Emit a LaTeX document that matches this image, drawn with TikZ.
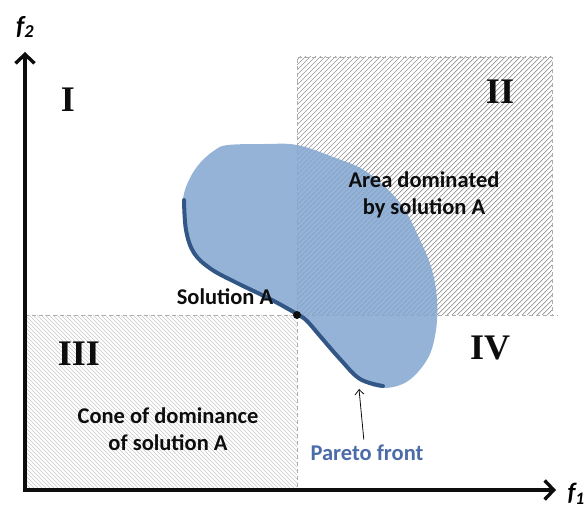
\documentclass[tikz,border=0pt]{standalone}
\usepackage{fontspec}
\setmainfont{Carlito}
\newfontfamily\romfont{Liberation Serif}
\usetikzlibrary{arrows.meta}
\definecolor{ink}{gray}{0.05}
\definecolor{dashgray}{gray}{0.68}
\definecolor{hatchdark}{gray}{0.58}
\definecolor{hatchlight}{gray}{0.78}
\definecolor{blobbase}{RGB}{130,166,208}
\definecolor{frontline}{RGB}{50,86,134}
\definecolor{frontlabel}{RGB}{75,108,168}

\tikzset{
  axis/.style={ink, line width=3.6pt, -{Straight Barb[length=9pt,width=19pt,line width=3.4pt]}},
  bound/.style={dashgray, dashed, dash pattern=on 4pt off 3pt, line width=0.8pt},
  quad/.style={font=\romfont\bfseries\fontsize{36}{36}\selectfont, text=ink},
  note/.style={font=\bfseries\fontsize{22.5}{27}\selectfont, text=ink, align=center},
}

\begin{document}
\begin{tikzpicture}[x=1pt, y=-1pt]
  \useasboundingbox (0,0) rectangle (586,508);
  \coordinate (origin) at (25,490);
  \coordinate (ytip)   at (25,52);
  \coordinate (xtip)   at (556,490);
  \coordinate (solA)   at (297,315);
  % hatched quadrants
  \begin{scope}
    \clip (297,57) rectangle (552,315);
    \foreach \i in {-260,-255,...,260}
      \draw[hatchdark, line width=0.7pt] (297+\i,315) -- ++(260,-260);
  \end{scope}
  \begin{scope}
    \clip (25,315) rectangle (297,490);
    \foreach \i in {-180,-176,...,280}
      \draw[hatchlight, line width=0.6pt] (25+\i,315) -- ++(180,180);
  \end{scope}
  \draw[bound] (297,315) -- (297,57) -- (552,57) -- (552,315);
  \draw[bound] (25,315) -- (558,315);
  \draw[bound] (297,315) -- (297,490);
  % objective space region
  \fill[blobbase, fill opacity=0.85] plot[smooth cycle, tension=0.6] coordinates {
    (228,145) (265,144) (297,145) (333,157) (367,172) (400,203) (420,240)
    (432,270) (437,300) (436,330) (428,358) (408,381) (383,388) (360,380)
    (340,360) (320,337) (307,322) (297,315) (270,300) (237,284) (210,270)
    (193,254) (185,230) (183,200) (189,180) (200,163) (215,150)};
  % pareto front
  \draw[frontline, line width=4pt, line cap=round] plot[smooth, tension=0.6] coordinates {
    (184,200) (186,230) (194,253) (211,269) (237,283) (270,299) (297,314)
    (307,321) (320,336) (340,359) (360,379) (383,386)};
  \fill[ink] (solA) circle (4);
  % axes
  \draw[axis] (origin) -- (ytip);
  \draw[axis] ([xshift=-1.8pt]origin) -- (xtip);
  \node (f2) at (25,27) {\bfseries\itshape\fontsize{26}{26}\selectfont f\textsubscript{2}};
  \node[anchor=east, inner sep=0pt] (f1) at (585,494) {\bfseries\itshape\fontsize{25}{25}\selectfont f\textsubscript{1}};
  % labels
  \node[quad] (q1) at (68,100) {I};
  \node[quad] (q2) at (500,92) {II};
  \node[quad] (q3) at (79,354) {III};
  \node[quad] (q4) at (490,348) {IV};
  \node[note] (areaA) at (424,195) {Area dominated\\by solution A};
  \node[note] (coneA) at (168,429) {Cone of dominance\\of solution A};
  \node[note] (solAlab) at (225,297) {Solution A};
  \node[note, text=frontlabel] (pareto) at (367,453) {Pareto front};
  \coordinate (frontpt) at (359,389);
  \draw[ink, line width=0.8pt, -{Straight Barb[length=5pt,width=9pt]}, shorten <=2pt] ([xshift=-3pt]pareto.north) -- (frontpt);
\end{tikzpicture}
\end{document}
